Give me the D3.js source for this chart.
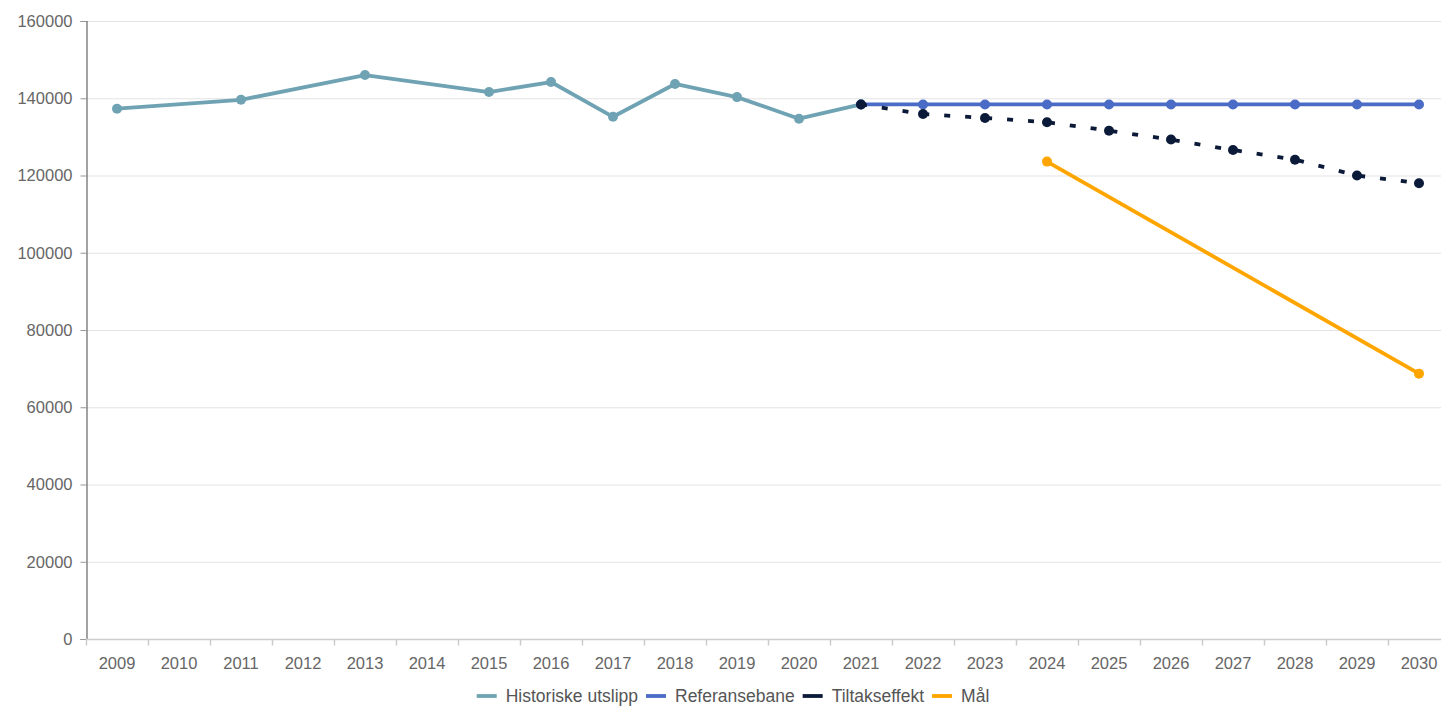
<!DOCTYPE html>
<html>
<head>
<meta charset="utf-8">
<script src="https://cdn.jsdelivr.net/npm/d3@7"></script>
<style>
  body { margin: 0; background: #fff; }
  svg { display: block; font-family: "Liberation Sans", Arial, sans-serif; }
</style>
</head>
<body>
<div id="chart"></div>
<script>
var years = ["2009","2010","2011","2012","2013","2014","2015","2016","2017","2018","2019",
             "2020","2021","2022","2023","2024","2025","2026","2027","2028","2029","2030"];

var historiske = [137300, null, 139600, null, 146000, null, 141600, 144200, 135200, 143700, 140300,
                  134700, 138400, null, null, null, null, null, null, null, null, null];
var referanse = [null, null, null, null, null, null, null, null, null, null, null,
                 null, 138400, 138400, 138400, 138400, 138400, 138400, 138400, 138400, 138400, 138400];
var tiltak = [null, null, null, null, null, null, null, null, null, null, null,
              null, 138400, 135900, 134900, 133800, 131600, 129300, 126600, 124100, 120000, 118000];
var maal = [null, null, null, null, null, null, null, null, null, null, null,
            null, null, null, null, 123600, null, null, null, null, null, 68700];

var yTicks = [0, 20000, 40000, 60000, 80000, 100000, 120000, 140000, 160000];

var seriesNames = ["Historiske utslipp", "Referansebane", "Tiltakseffekt", "Mål"];
var seriesColors = ["#6fa3b4", "#4a6bc6", "#0b1a38", "#ffa500"];
var seriesData = [historiske, referanse, tiltak, maal];

var W = 1443, H = 706;
var margin = { left: 86, right: 2, top: 21, bottom: 67 };
var fontSize = "16.5px";
var legendFont = "17.5px";

var svg = d3.select("#chart").append("svg")
    .attr("width", W)
    .attr("height", H);

var x = d3.scaleBand()
    .domain(years)
    .range([margin.left, margin.left + 62 * years.length]);

var y = d3.scaleLinear()
    .domain([0, 160000])
    .range([H - margin.bottom, margin.top]);

var plotRight = W - margin.right;

// gridlines
svg.append("g")
    .selectAll("line")
    .data(yTicks.slice(1))
    .enter()
    .append("line")
    .attr("x1", margin.left)
    .attr("x2", plotRight)
    .attr("y1", function(d) { return y(d) + 0.5; })
    .attr("y2", function(d) { return y(d) + 0.5; })
    .attr("stroke", "#e3e3e3")
    .attr("stroke-width", 1);

// y axis
var yAxis = svg.append("g")
    .attr("transform", "translate(" + (margin.left + 0.5) + ",0)")
    .call(d3.axisLeft(y).tickValues(yTicks).tickSize(6).tickPadding(8).tickFormat(d3.format("d")));
yAxis.select(".domain").attr("stroke", "#666").attr("stroke-width", 1.2);
yAxis.selectAll(".tick line").attr("stroke", "#999");
yAxis.selectAll("text").attr("fill", "#666").style("font-size", fontSize)
    .style("font-family", "'Liberation Sans', Arial, sans-serif");

// x axis
var xAxis = svg.append("g")
    .attr("transform", "translate(0," + (y(0) + 0.5) + ")");
xAxis.append("line")
    .attr("x1", margin.left)
    .attr("x2", plotRight)
    .attr("stroke", "#ccc")
    .attr("stroke-width", 1.5);
xAxis.selectAll(".xtick")
    .data(years)
    .enter()
    .append("line")
    .attr("class", "xtick")
    .attr("x1", function(d) { return Math.round(x(d)) + 0.5; })
    .attr("x2", function(d) { return Math.round(x(d)) + 0.5; })
    .attr("y1", 0)
    .attr("y2", 6)
    .attr("stroke", "#ccc")
    .attr("stroke-width", 1.5);
xAxis.selectAll(".xlabel")
    .data(years)
    .enter()
    .append("text")
    .attr("class", "xlabel")
    .attr("x", function(d) { return x(d) + x.bandwidth() / 2; })
    .attr("y", 29)
    .attr("text-anchor", "middle")
    .attr("fill", "#666")
    .style("font-size", fontSize)
    .text(function(d) { return d; });

// series
var line = d3.line()
    .x(function(d) { return x(d.year) + x.bandwidth() / 2; })
    .y(function(d) { return y(d.value); });

seriesData.forEach(function(vals, i) {
    var pts = [];
    vals.forEach(function(v, j) {
        if (v !== null) pts.push({ year: years[j], value: v });
    });
    var g = svg.append("g");
    g.append("path")
        .datum(pts)
        .attr("d", line)
        .attr("fill", "none")
        .attr("stroke", seriesColors[i])
        .attr("stroke-width", 3.8)
        .attr("stroke-dasharray", i === 2 ? "6,15" : null)
        .attr("stroke-linejoin", "round");
    g.selectAll("circle")
        .data(pts)
        .enter()
        .append("circle")
        .attr("cx", function(d) { return x(d.year) + x.bandwidth() / 2; })
        .attr("cy", function(d) { return y(d.value); })
        .attr("r", 5)
        .attr("fill", seriesColors[i]);
});

// legend
var legend = svg.append("g").attr("transform", "translate(0,696)");
var items = [];
var lx = 0;
seriesNames.forEach(function(n, i) {
    items.push({ name: n, color: seriesColors[i], x: lx });
    var tmp = svg.append("text").style("font-size", legendFont).text(n);
    var w = tmp.node().getComputedTextLength();
    tmp.remove();
    lx += 20 + 9 + w + 8;
});
var legendW = lx - 8;
var startX = 733 - legendW / 2;
var li = legend.selectAll("g")
    .data(items)
    .enter()
    .append("g")
    .attr("transform", function(d) { return "translate(" + (startX + d.x) + ",0)"; });
li.append("line")
    .attr("x1", 0).attr("x2", 20)
    .attr("y1", 0).attr("y2", 0)
    .attr("stroke", function(d) { return d.color; })
    .attr("stroke-width", 3.8);
li.append("text")
    .attr("x", 29)
    .attr("y", 6)
    .attr("fill", "#555")
    .style("font-size", legendFont)
    .text(function(d) { return d.name; });
</script>
</body>
</html>
